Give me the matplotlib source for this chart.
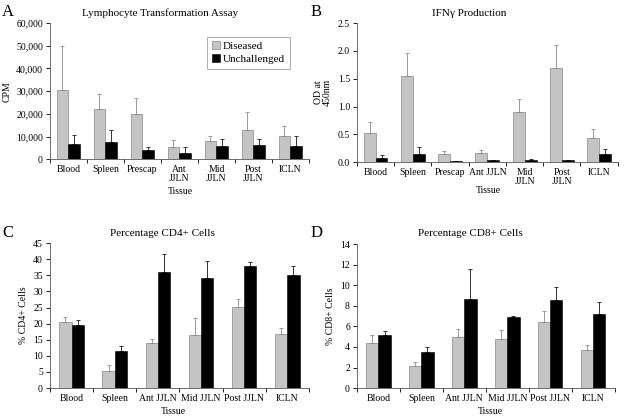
import matplotlib.pyplot as plt
import numpy as np
from matplotlib.ticker import FuncFormatter

plt.rcParams["font.family"] = ["Liberation Serif", "DejaVu Serif"]

# ---------------------------------------------------------------------------
# Data
# ---------------------------------------------------------------------------
lta_tissues = ["Blood", "Spleen", "Prescap", "Ant\nJJLN", "Mid\nJJLN", "Post\nJJLN", "ICLN"]
lta_diseased = [30700, 22300, 20100, 5500, 8000, 13000, 10300]
lta_diseased_err = [19300, 6500, 6900, 2800, 2300, 7700, 4300]
lta_unchal = [6500, 7700, 4000, 2800, 5900, 6100, 5900]
lta_unchal_err = [4000, 5200, 1200, 2400, 3100, 2900, 4400]

ifn_tissues = ["Blood", "Spleen", "Prescap", "Ant JJLN", "Mid\nJJLN", "Post\nJJLN", "ICLN"]
ifn_diseased = [0.52, 1.54, 0.14, 0.16, 0.91, 1.70, 0.43]
ifn_diseased_err = [0.21, 0.43, 0.06, 0.05, 0.22, 0.40, 0.16]
ifn_unchal = [0.08, 0.155, 0.02, 0.035, 0.045, 0.035, 0.145]
ifn_unchal_err = [0.04, 0.125, 0.005, 0.01, 0.02, 0.005, 0.085]

cd_tissues = ["Blood", "Spleen", "Ant JJLN", "Mid JJLN", "Post JJLN", "ICLN"]
cd4_diseased = [20.5, 5.4, 14.0, 16.6, 25.1, 16.8]
cd4_diseased_err = [1.7, 1.7, 1.1, 5.3, 2.7, 1.8]
cd4_unchal = [19.6, 11.6, 36.1, 34.3, 38.0, 35.1]
cd4_unchal_err = [1.4, 1.4, 5.6, 5.1, 1.2, 2.9]

cd8_diseased = [4.37, 2.14, 4.96, 4.76, 6.38, 3.69]
cd8_diseased_err = [0.78, 0.36, 0.78, 0.88, 1.11, 0.49]
cd8_unchal = [5.18, 3.53, 8.65, 6.87, 8.52, 7.19]
cd8_unchal_err = [0.36, 0.42, 2.92, 0.13, 1.30, 1.17]

GRAY = "#c4c4c4"
GRAY_ERR = "#9a9a9a"


def bar_panel(ax, tissues, dis, dis_err, unc, unc_err, width, ylim, yticks):
    x = np.arange(len(tissues))
    ax.bar(x - width / 2, dis, width, color=GRAY, edgecolor="#707070",
           linewidth=0.4, label="Diseased", zorder=2)
    ax.bar(x + width / 2, unc, width, color="black", edgecolor="black",
           linewidth=0.4, label="Unchallenged", zorder=2)
    ax.errorbar(x - width / 2, dis, yerr=[np.zeros(len(dis)), dis_err],
                fmt="none", ecolor=GRAY_ERR, elinewidth=0.7, capsize=1.5,
                capthick=0.7, zorder=1)
    ax.errorbar(x + width / 2, unc, yerr=[np.zeros(len(unc)), unc_err],
                fmt="none", ecolor="#333333", elinewidth=0.7, capsize=1.5,
                capthick=0.7, zorder=1)
    ax.set_xlim(-0.5, len(tissues) - 0.5)
    ax.set_ylim(*ylim)
    ax.set_yticks(yticks)
    # category boundary ticks, labels at centers
    ax.set_xticks(np.arange(len(tissues) + 1) - 0.5)
    ax.set_xticklabels([])
    ax.set_xticks(x, minor=True)
    ax.set_xticklabels(tissues, minor=True, fontsize=7, linespacing=1.1)
    ax.tick_params(axis="x", which="minor", length=0, pad=4)
    ax.tick_params(axis="x", which="major", length=3, width=0.6, direction="out")
    ax.tick_params(axis="y", length=3, width=0.6, direction="out", labelsize=7, pad=2)
    for side in ("top", "right"):
        ax.spines[side].set_visible(False)
    for side in ("left", "bottom"):
        ax.spines[side].set_linewidth(0.6)
        ax.spines[side].set_color("#555555")


fig = plt.figure(figsize=(6.24, 4.2), dpi=100)

axA = fig.add_axes([0.080, 0.621, 0.415, 0.324])
axB = fig.add_axes([0.572, 0.614, 0.418, 0.331])
axC = fig.add_axes([0.080, 0.076, 0.415, 0.345])
axD = fig.add_axes([0.572, 0.076, 0.413, 0.343])

bar_panel(axA, lta_tissues, lta_diseased, lta_diseased_err, lta_unchal,
          lta_unchal_err, 0.32, (0, 60000), np.arange(0, 60001, 10000))
axA.yaxis.set_major_formatter(FuncFormatter(lambda v, p: f"{int(v):,}"))
axA.set_ylabel("CPM", fontsize=7, labelpad=3)
axA.legend(loc="upper left", bbox_to_anchor=(0.587, 0.94), fontsize=8,
           frameon=True, fancybox=False, edgecolor="#888888",
           handlelength=0.7, handleheight=0.7, handletextpad=0.3,
           borderpad=0.4, labelspacing=0.3).get_frame().set_linewidth(0.6)

bar_panel(axB, ifn_tissues, ifn_diseased, ifn_diseased_err, ifn_unchal,
          ifn_unchal_err, 0.32, (0, 2.5), np.arange(0, 2.51, 0.5))
axB.yaxis.set_major_formatter(FuncFormatter(lambda v, p: f"{v:.1f}"))
axB.set_ylabel("OD at\n450nm", fontsize=7, labelpad=4, linespacing=1.0)

bar_panel(axC, cd_tissues, cd4_diseased, cd4_diseased_err, cd4_unchal,
          cd4_unchal_err, 0.285, (0, 45), np.arange(0, 46, 5))
axC.set_ylabel("% CD4+ Cells", fontsize=7, labelpad=4)

bar_panel(axD, cd_tissues, cd8_diseased, cd8_diseased_err, cd8_unchal,
          cd8_unchal_err, 0.285, (0, 14), np.arange(0, 15, 2))
axD.set_ylabel("% CD8+ Cells", fontsize=7, labelpad=4)

# titles, x labels and panel letters placed in figure pixels
def fx(px):
    return px / 624


def fy(py):
    return 1 - py / 420


title_kw = dict(fontsize=8, ha="center", va="center")
fig.text(fx(160), fy(13), "Lymphocyte Transformation Assay", **title_kw)
fig.text(fx(469), fy(13), "IFNγ Production", **title_kw)
fig.text(fx(162), fy(234), "Percentage CD4+ Cells", **title_kw)
fig.text(fx(470), fy(234), "Percentage CD8+ Cells", **title_kw)

xl_kw = dict(fontsize=7, ha="center", va="center")
fig.text(fx(180), fy(192), "Tissue", **xl_kw)
fig.text(fx(488), fy(191), "Tissue", **xl_kw)
fig.text(fx(173), fy(412), "Tissue", **xl_kw)
fig.text(fx(490), fy(412), "Tissue", **xl_kw)

letter_kw = dict(fontsize=12, ha="left", va="center")
fig.text(fx(2), fy(12), "A", **letter_kw)
fig.text(fx(311), fy(12), "B", **letter_kw)
fig.text(fx(2), fy(233), "C", **letter_kw)
fig.text(fx(311), fy(233), "D", **letter_kw)

fig.savefig("out.png", dpi=100)
